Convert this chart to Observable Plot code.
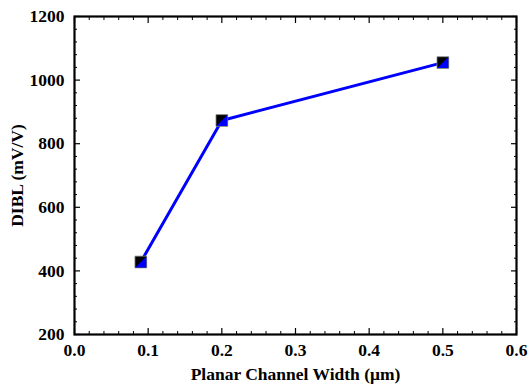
<!DOCTYPE html>
<html><head><meta charset="utf-8">
<script src="https://cdn.jsdelivr.net/npm/d3@7"></script>
<script src="https://cdn.jsdelivr.net/npm/@observablehq/plot@0.6"></script>
<style>body{margin:0;background:#fff}</style>
</head><body><div id="chart"></div>
<script>
const widths = [0.09, 0.2, 0.5];
const dibl = [428, 873, 1055];
const xTicks = [0, 0.1, 0.2, 0.3, 0.4, 0.5, 0.6];
const yTicks = [200, 400, 600, 800, 1000, 1200];
const xMinor = [0.02,0.04,0.06,0.08,0.12,0.14,0.16,0.18,0.22,0.24,0.26,0.28,0.32,0.34,0.36,0.38,0.42,0.44,0.46,0.48,0.52,0.54,0.56,0.58];
const yMinor = [240,280,320,360,440,480,520,560,640,680,720,760,840,880,920,960,1040,1080,1120,1160];
const xLabel = "Planar Channel Width (\u03bcm)";
const yLabel = "DIBL (mV/V)";

const data = widths.map((w, i) => ({w, v: dibl[i]}));
const halfSquare = {draw(ctx, size){const h = Math.sqrt(size)/2; ctx.moveTo(h,-h); ctx.lineTo(h,h); ctx.lineTo(-h,h); ctx.closePath();}};
const font = {fontFamily: "Liberation Serif", fontWeight: "bold", fontSize: 17.5};
const blank = () => "";

const chart = Plot.plot({
  width: 528, height: 390,
  marginLeft: 74, marginRight: 12, marginTop: 16, marginBottom: 56,
  style: {background: "#fff", color: "#000", fontFamily: "Liberation Serif"},
  x: {domain: [0, 0.6]},
  y: {domain: [200, 1200]},
  marks: [
    Plot.axisX({ticks: xTicks, tickSize: 0, tickPadding: 9, tickFormat: d => d.toFixed(1), label: null, ...font}),
    Plot.axisY({ticks: yTicks, tickSize: 0, tickPadding: 10, tickFormat: d => String(d), label: null, ...font}),
    Plot.axisX({anchor: "bottom", ticks: xTicks, tickSize: -6, tickFormat: blank, label: null, strokeWidth: 1.2}),
    Plot.axisX({anchor: "top", ticks: xTicks, tickSize: -6, tickFormat: blank, label: null, strokeWidth: 1.2}),
    Plot.axisX({anchor: "bottom", ticks: xMinor, tickSize: -3, tickFormat: blank, label: null}),
    Plot.axisX({anchor: "top", ticks: xMinor, tickSize: -3, tickFormat: blank, label: null}),
    Plot.axisY({anchor: "left", ticks: yTicks, tickSize: -6, tickFormat: blank, label: null, strokeWidth: 1.2}),
    Plot.axisY({anchor: "right", ticks: yTicks, tickSize: -6, tickFormat: blank, label: null, strokeWidth: 1.2}),
    Plot.axisY({anchor: "left", ticks: yMinor, tickSize: -3, tickFormat: blank, label: null}),
    Plot.axisY({anchor: "right", ticks: yMinor, tickSize: -3, tickFormat: blank, label: null}),
    Plot.frame({stroke: "#000", strokeWidth: 2.2}),
    Plot.text([xLabel], {frameAnchor: "bottom", dy: 45, text: d => d, ...font}),
    Plot.text([yLabel], {frameAnchor: "left", dx: -57, rotate: -90, textAnchor: "middle", text: d => d, ...font}),
    Plot.line(data, {x: "w", y: "v", stroke: "#0000ff", strokeWidth: 3}),
    Plot.dot(data, {x: "w", y: "v", symbol: "square", r: 6.6, fill: "#000", stroke: "#888", strokeWidth: 0.8}),
    Plot.dot(data, {x: "w", y: "v", symbol: halfSquare, r: 6.2, fill: "#0000ff"})
  ]
});
document.getElementById("chart").appendChild(chart);
</script>
</body></html>
